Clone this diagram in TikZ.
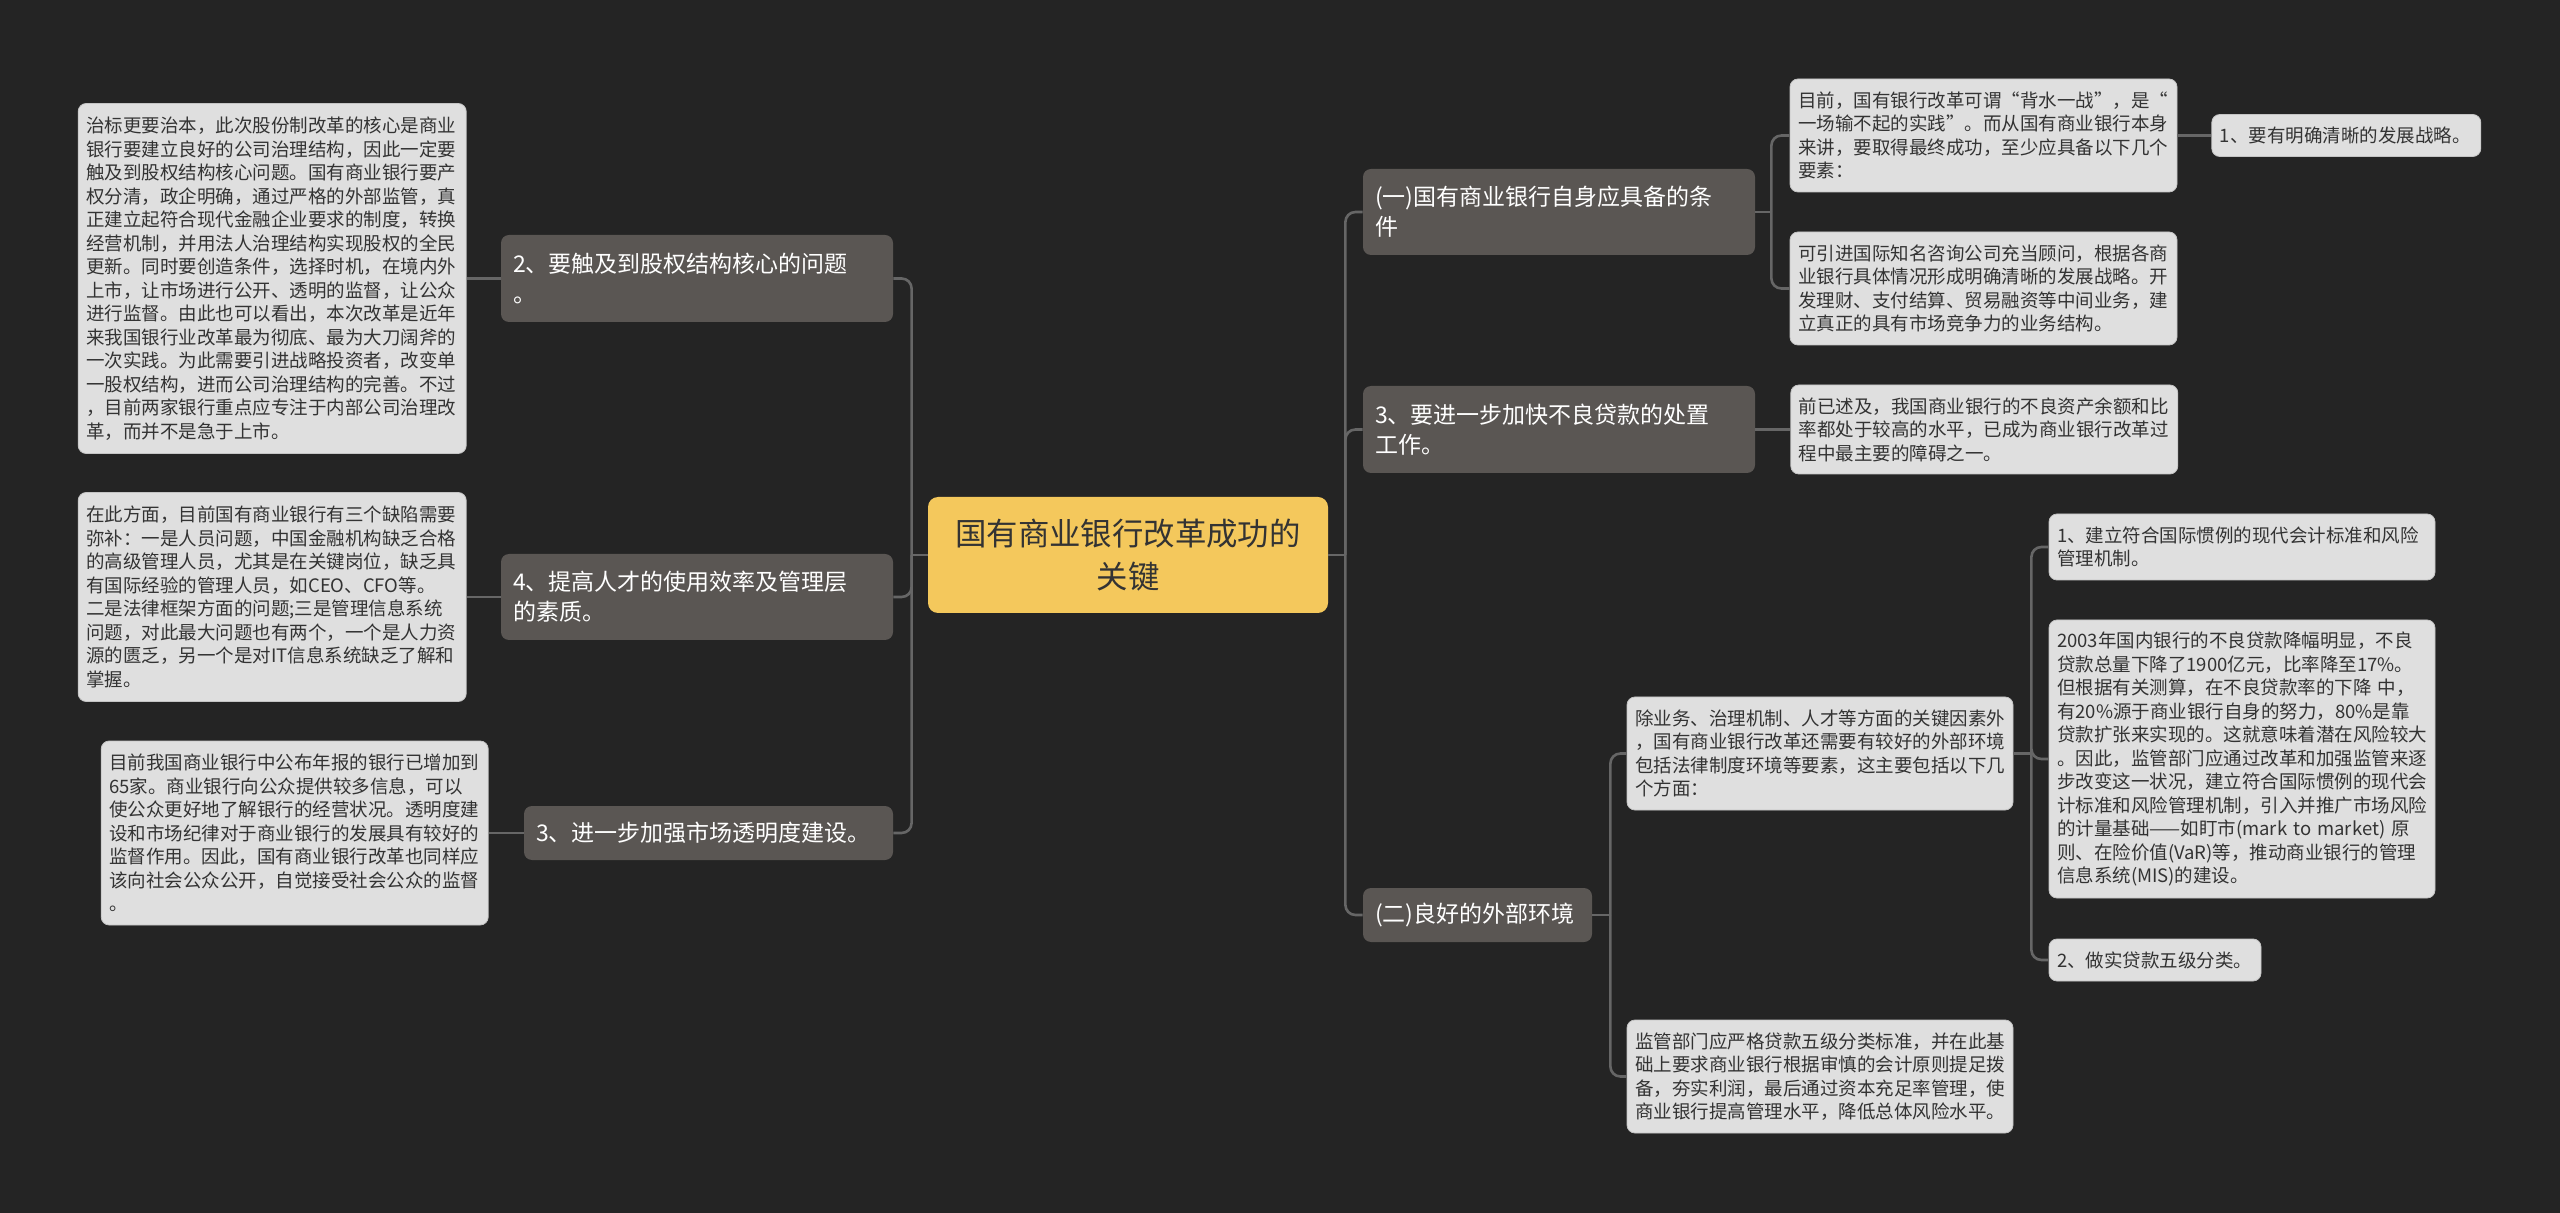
\documentclass[tikz,border=0pt]{standalone}
\usepackage{fontspec}
\setmainfont{Noto Sans CJK SC}
\usepackage{tikz}
\usetikzlibrary{positioning}
\definecolor{mapbg}{HTML}{242424}
\definecolor{mapgold}{HTML}{F4C85C}
\definecolor{mapstone}{HTML}{5A5653}
\definecolor{mapleaf}{HTML}{DFDFDF}
\definecolor{mapedge}{HTML}{C4C4C4}
\definecolor{mapline}{HTML}{666666}
\definecolor{mapink}{HTML}{333333}

\begin{document}
\begin{tikzpicture}[x=0.5pt, y=-0.5pt,
  rootbox/.style={fill=mapgold, text=mapink, rounded corners=5pt, align=center, inner sep=0pt, font=\fontsize{15.7}{21.5}\selectfont},
  topic/.style={fill=mapstone, text=white, rounded corners=4pt, align=left, inner xsep=6pt, inner ysep=2pt, font=\fontsize{11.5}{15}\selectfont},
  leaf/.style={fill=mapleaf, draw=mapedge, line width=0.4pt, text=mapink, rounded corners=4pt, align=left, inner xsep=4pt, inner ysep=2pt, font=\fontsize{9.25}{11.75}\selectfont},
  link/.style={draw=mapline, line width=1.3pt, rounded corners=5pt}]
  \fill[mapbg] (0,0) rectangle (2560,1213);
  \useasboundingbox (0,0) rectangle (2560,1213);

  % centre
  \node[rootbox, minimum width=200pt, minimum height=58pt, text width=190pt] (root) at (1128,555) {国有商业银行改革成功的\\关键};

  % left side
  \node[topic, minimum width=196pt, minimum height=43.5pt, text width=184pt] (l1) at (697,278.5) {2、要触及到股权结构核心的问题\\。};
  \node[topic, minimum width=196pt, minimum height=43pt, text width=184pt] (l2) at (697,597) {4、提高人才的使用效率及管理层\\的素质。};
  \node[topic, minimum width=184.5pt, minimum height=27pt, text width=172.5pt] (l3) at (708.5,833) {3、进一步加强市场透明度建设。};

  \node[leaf, minimum width=194pt, minimum height=175pt, text width=186pt, left=17pt of l1] (ll1) {治标更要治本，此次股份制改革的核心是商业\\银行要建立良好的公司治理结构，因此一定要\\触及到股权结构核心问题。国有商业银行要产\\权分清，政企明确，通过严格的外部监管，真\\正建立起符合现代金融企业要求的制度，转换\\经营机制，并用法人治理结构实现股权的全民\\更新。同时要创造条件，选择时机，在境内外\\上市，让市场进行公开、透明的监督，让公众\\进行监督。由此也可以看出，本次改革是近年\\来我国银行业改革最为彻底、最为大刀阔斧的\\一次实践。为此需要引进战略投资者，改变单\\一股权结构，进而公司治理结构的完善。不过\\，目前两家银行重点应专注于内部公司治理改\\革，而并不是急于上市。};
  \node[leaf, minimum width=194pt, minimum height=104.5pt, text width=186pt, left=17pt of l2] (ll2) {在此方面，目前国有商业银行有三个缺陷需要\\弥补：一是人员问题，中国金融机构缺乏合格\\的高级管理人员，尤其是在关键岗位，缺乏具\\有国际经验的管理人员，如CEO、CFO等。\\二是法律框架方面的问题;三是管理信息系统\\问题，对此最大问题也有两个，一个是人力资\\源的匮乏，另一个是对IT信息系统缺乏了解和\\掌握。};
  \node[leaf, minimum width=193.5pt, minimum height=92pt, text width=185.5pt, left=17.5pt of l3] (ll3) {目前我国商业银行中公布年报的银行已增加到\\65家。商业银行向公众提供较多信息，可以\\使公众更好地了解银行的经营状况。透明度建\\设和市场纪律对于商业银行的发展具有较好的\\监督作用。因此，国有商业银行改革也同样应\\该向社会公众公开，自觉接受社会公众的监督\\。};

  % right side
  \node[topic, minimum width=196pt, minimum height=43pt, text width=184pt] (r1) at (1559,212) {(一)国有商业银行自身应具备的条\\件};
  \node[topic, minimum width=196pt, minimum height=43.5pt, text width=184pt] (r2) at (1559,429.5) {3、要进一步加快不良贷款的处置\\工作。};
  \node[topic, minimum width=114.5pt, minimum height=27pt, text width=102.5pt] (r3) at (1477.5,915) {(二)良好的外部环境};

  \node[leaf, minimum width=193.5pt, minimum height=56.5pt, text width=185.5pt] (r1a) at (1983.5,135.5) {目前，国有银行改革可谓“背水一战”，是“\\一场输不起的实践”。而从国有商业银行本身\\来讲，要取得最终成功，至少应具备以下几个\\要素：};
  \node[leaf, minimum width=193.5pt, minimum height=56.5pt, text width=185.5pt] (r1b) at (1983.5,288.5) {可引进国际知名咨询公司充当顾问，根据各商\\业银行具体情况形成明确清晰的发展战略。开\\发理财、支付结算、贸易融资等中间业务，建\\立真正的具有市场竞争力的业务结构。};
  \node[leaf, minimum width=134.5pt, minimum height=21pt, text width=126.5pt, right=17pt of r1a] (r1a1) {1、要有明确清晰的发展战略。};
  \node[leaf, minimum width=193.5pt, minimum height=44.5pt, text width=185.5pt, right=17.5pt of r2] (r2a) {前已述及，我国商业银行的不良资产余额和比\\率都处于较高的水平，已成为商业银行改革过\\程中最主要的障碍之一。};

  \node[leaf, minimum width=193pt, minimum height=56.5pt, text width=185pt] (r3a) at (1820,753.5) {除业务、治理机制、人才等方面的关键因素外\\，国有商业银行改革还需要有较好的外部环境\\包括法律制度环境等要素，这主要包括以下几\\个方面：};
  \node[leaf, minimum width=193pt, minimum height=56.5pt, text width=185pt] (r3b) at (1820,1076.5) {监管部门应严格贷款五级分类标准，并在此基\\础上要求商业银行根据审慎的会计原则提足拨\\备，夯实利润，最后通过资本充足率管理，使\\商业银行提高管理水平，降低总体风险水平。};
  \node[leaf, minimum width=193pt, minimum height=33pt, text width=185pt] (r3a1) at (2242,547) {1、建立符合国际惯例的现代会计标准和风险\\管理机制。};
  \node[leaf, minimum width=193pt, minimum height=139pt, text width=185pt] (r3a2) at (2242,759) {2003年国内银行的不良贷款降幅明显，不良\\贷款总量下降了1900亿元，比率降至17\%。\\但根据有关测算，在不良贷款率的下降~中，\\有20\%源于商业银行自身的努力，80\%是靠\\贷款扩张来实现的。这就意味着潜在风险较大\\。因此，监管部门应通过改革和加强监管来逐\\步改变这一状况，建立符合国际惯例的现代会\\计标准和风险管理机制，引入并推广市场风险\\的计量基础——如盯市(mark~to~market)~原\\则、在险价值(VaR)等，推动商业银行的管理\\信息系统(MIS)的建设。};
  \node[leaf, minimum width=106pt, minimum height=21pt, text width=98pt] (r3a3) at (2155,960) {2、做实贷款五级分类。};

  % connectors
  \draw[link] (root.east) -- ++(17,0) coordinate (rj);
  \foreach \n in {r1,r2,r3} \draw[link] (rj) |- (\n.west);
  \draw[link] (root.west) -- ++(-16,0) coordinate (lj);
  \foreach \n in {l1,l2,l3} \draw[link] (lj) |- (\n.east);
  \foreach \a/\b in {l1/ll1,l2/ll2,l3/ll3} \draw[link] (\a.west) -- (\b.east);
  \draw[link] (r1.east) -- ++(16,0) coordinate (r1j);
  \foreach \n in {r1a,r1b} \draw[link] (r1j) |- (\n.west);
  \draw[link] (r1a.east) -- (r1a1.west);
  \draw[link] (r2.east) -- (r2a.west);
  \draw[link] (r3.east) -- ++(18,0) coordinate (r3j);
  \foreach \n in {r3a,r3b} \draw[link] (r3j) |- (\n.west);
  \draw[link] (r3a.east) -- ++(18,0) coordinate (r3aj);
  \foreach \n in {r3a1,r3a2,r3a3} \draw[link] (r3aj) |- (\n.west);
\end{tikzpicture}
\end{document}
